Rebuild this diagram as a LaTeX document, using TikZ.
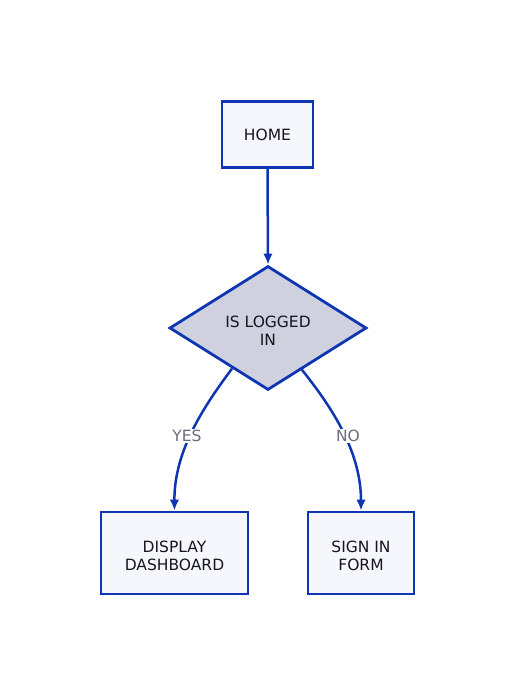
\documentclass[tikz,border=0pt]{standalone}
\usepackage{fontspec}
\setmainfont{DejaVu Sans}
\usetikzlibrary{shapes.geometric,arrows.meta,calc}
\definecolor{strokeblue}{HTML}{1035B3}
\definecolor{boxfill}{HTML}{F5F7FD}
\definecolor{diafill}{HTML}{CFD1DF}
\definecolor{labelgray}{HTML}{6B6B80}
\definecolor{textdark}{HTML}{15151F}
\newcommand{\toppad}{\rule{0pt}{17.5pt}}
\tikzset{
  every node/.style={font=\fontsize{15.5}{18}\selectfont, text=textdark, align=center},
  procbox/.style={draw=strokeblue, fill=boxfill, line width=2.8pt, inner sep=0pt},
  decision/.style={diamond, draw=strokeblue, fill=diafill, line width=2.8pt, inner sep=0pt, aspect=1.59},
  flow/.style={draw=strokeblue, line width=2.5pt, -{Latex[length=11pt,width=9.5pt]}},
  edgelabel/.style={fill=white, text=labelgray, inner sep=1.5pt}
}
\begin{document}
\begin{tikzpicture}[x=1pt,y=-1pt]
\useasboundingbox (0,0) rectangle (515,695);
\node[procbox, minimum width=91pt, minimum height=66pt] (home) at (267.5,134.5) {HOME};
\node[decision, minimum width=197pt, minimum height=124pt] (dec) at (268,328) {\toppad IS LOGGED\\IN};
\node[procbox, minimum width=147pt, minimum height=82pt] (dash) at (174.5,553) {\toppad DISPLAY\\DASHBOARD};
\node[procbox, minimum width=106pt, minimum height=82pt] (sign) at (361,553) {\toppad SIGN IN\\FORM};
\draw[flow] (home.south) -- (dec.north);
\coordinate (yesstart) at ($(dec.west)!0.64!(dec.south)$);
\coordinate (nostart) at ($(dec.east)!0.66!(dec.south)$);
\draw[flow] (yesstart) .. controls (205,405) and (174,450) .. (dash.north);
\draw[flow] (nostart) .. controls (330,405) and (361,450) .. (sign.north);
\node[edgelabel] (yes) at (187,436) {YES};
\node[edgelabel] (no) at (348,436) {NO};
\end{tikzpicture}
\end{document}
